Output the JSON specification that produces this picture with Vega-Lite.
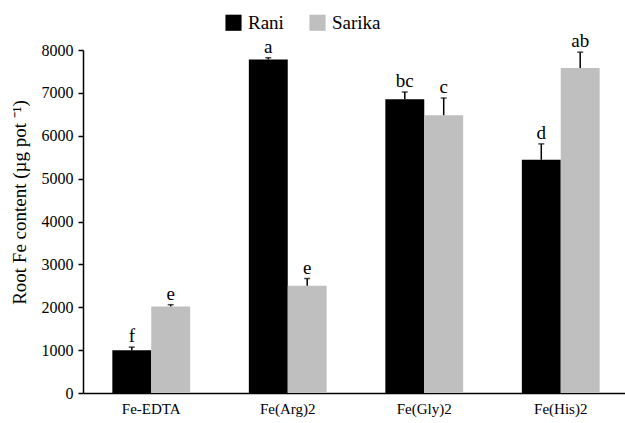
{
  "$schema": "https://vega.github.io/schema/vega-lite/v6.json",
  "autosize": "none",
  "width": 546,
  "height": 343,
  "padding": {"left": 83, "top": 50, "right": 0, "bottom": 30},
  "background": "white",
  "config": {
    "view": {"stroke": null},
    "font": "Liberation Serif"
  },
  "data": {
    "values": [
      {"treatment": "Fe-EDTA", "cultivar": "Rani", "value": 1000, "upper": 1070, "letter": "f"},
      {"treatment": "Fe-EDTA", "cultivar": "Sarika", "value": 2020, "upper": 2060, "letter": "e"},
      {"treatment": "Fe(Arg)2", "cultivar": "Rani", "value": 7780, "upper": 7820, "letter": "a"},
      {"treatment": "Fe(Arg)2", "cultivar": "Sarika", "value": 2500, "upper": 2670, "letter": "e"},
      {"treatment": "Fe(Gly)2", "cultivar": "Rani", "value": 6850, "upper": 7020, "letter": "bc"},
      {"treatment": "Fe(Gly)2", "cultivar": "Sarika", "value": 6480, "upper": 6880, "letter": "c"},
      {"treatment": "Fe(His)2", "cultivar": "Rani", "value": 5440, "upper": 5810, "letter": "d"},
      {"treatment": "Fe(His)2", "cultivar": "Sarika", "value": 7580, "upper": 7950, "letter": "ab"}
    ]
  },
  "encoding": {
    "x": {
      "field": "treatment", "type": "nominal", "sort": null,
      "scale": {"paddingInner": 0.43, "paddingOuter": 0.215},
      "axis": {"title": null, "labelAngle": 0, "ticks": false, "domainColor": "black", "domainWidth": 1.5, "labelFont": "Liberation Serif", "labelFontSize": 15, "labelColor": "black", "labelPadding": 8}
    },
    "xOffset": {"field": "cultivar", "type": "nominal", "sort": ["Rani", "Sarika"]}
  },
  "layer": [
    {
      "mark": {"type": "bar"},
      "encoding": {
        "y": {
          "field": "value", "type": "quantitative",
          "scale": {"domain": [0, 8000]},
          "axis": {"title": "Root Fe content (µg pot ⁻¹)", "format": "d", "values": [0,1000,2000,3000,4000,5000,6000,7000,8000], "grid": false, "domainColor": "black", "domainWidth": 1.5, "tickColor": "black", "tickWidth": 1.5, "tickSize": 5, "labelFont": "Liberation Serif", "labelFontSize": 16, "labelColor": "black", "labelPadding": 5, "titleFont": "Liberation Serif", "titleFontSize": 19, "titleFontWeight": "normal", "titleColor": "black", "titlePadding": 12, "titleY": 152}
        },
        "color": {
          "field": "cultivar", "type": "nominal",
          "scale": {"domain": ["Rani", "Sarika"], "range": ["#000000", "#bfbfbf"]},
          "legend": {"title": null, "orient": "none", "direction": "horizontal", "legendX": 141, "legendY": -37, "symbolType": "square", "symbolSize": 260, "symbolStrokeWidth": 0, "symbolOpacity": 1, "labelFont": "Liberation Serif", "labelFontSize": 19, "labelColor": "black", "labelOffset": 5, "columnPadding": 24}
        }
      }
    },
    {
      "mark": {"type": "rule", "color": "black", "strokeWidth": 1.5},
      "encoding": {
        "y": {"field": "value", "type": "quantitative"},
        "y2": {"field": "upper"}
      }
    },
    {
      "mark": {"type": "tick", "color": "black", "size": 6, "thickness": 1.5},
      "encoding": {
        "y": {"field": "upper", "type": "quantitative"}
      }
    },
    {
      "mark": {"type": "text", "baseline": "alphabetic", "dy": -5, "fontSize": 19, "font": "Liberation Serif", "color": "black"},
      "encoding": {
        "y": {"field": "upper", "type": "quantitative"},
        "text": {"field": "letter"}
      }
    }
  ]
}
